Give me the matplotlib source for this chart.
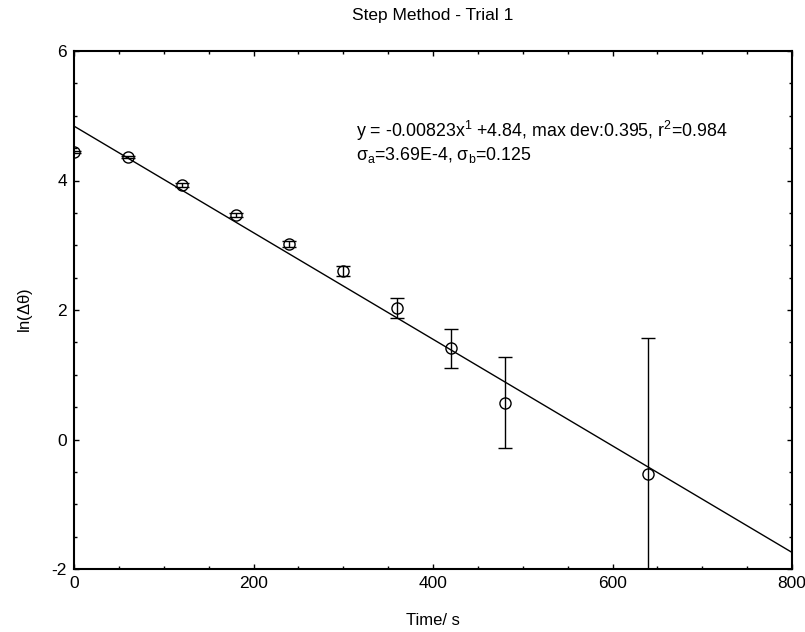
import matplotlib
matplotlib.use("Agg")
import matplotlib.pyplot as plt
import numpy as np
from matplotlib.ticker import MultipleLocator

plt.rcParams['font.family'] = ['Liberation Sans', 'DejaVu Sans']
plt.rcParams['mathtext.fontset'] = 'custom'
plt.rcParams['mathtext.rm'] = 'Liberation Sans'
plt.rcParams['mathtext.it'] = 'Liberation Sans'
plt.rcParams['mathtext.default'] = 'regular'
plt.rcParams['axes.unicode_minus'] = False

# measured points
time_s = [0, 60, 120, 180, 240, 300, 360, 420, 480, 640]
ln_dtheta = [4.44, 4.36, 3.93, 3.47, 3.02, 2.60, 2.03, 1.41, 0.57, -0.53]
err = [0.02, 0.02, 0.03, 0.035, 0.05, 0.075, 0.16, 0.30, 0.70, 2.09]

# linear fit
slope = -0.00823
intercept = 4.84
fit_x = [0, 800]

fig = plt.figure(figsize=(8.05, 6.32), dpi=100)
ax = fig.add_axes([74/805, 1 - 569/632, (792-74)/805, (569-51)/632])

fx = np.array(fit_x)
ax.plot(fx, slope * fx + intercept, color='black', lw=1.0)
ax.errorbar(time_s, ln_dtheta, yerr=err, fmt='o', mfc='none', mec='black',
            ms=8, mew=1.0, ecolor='black', elinewidth=1.0, capsize=5, capthick=1.0)

ax.set_xlim(0, 800)
ax.set_ylim(-2, 6)
ax.xaxis.set_major_locator(MultipleLocator(200))
ax.xaxis.set_minor_locator(MultipleLocator(50))
ax.yaxis.set_major_locator(MultipleLocator(2))
ax.yaxis.set_minor_locator(MultipleLocator(0.5))
ax.tick_params(which='both', direction='in', top=True, right=True, labelsize=12.5)
ax.tick_params(which='major', length=3.5, width=1.0, pad=5)
ax.tick_params(which='minor', length=2, width=1.0)
for s in ax.spines.values():
    s.set_linewidth(1.5)

ax.set_title('Step Method - Trial 1', fontsize=12.5, pad=22.5)
ax.set_xlabel('Time/ s', fontsize=12, labelpad=16)
ax.set_ylabel(r'ln($\Delta\theta$)', fontsize=12, labelpad=12)

ax.text(314, 4.67, r'y = -0.00823x$^1$ +4.84, max dev:0.395, r$^2$=0.984',
        fontsize=12.8, ha='left', va='baseline')
ax.text(314, 4.31, r'$\sigma_a$=3.69E-4, $\sigma_b$=0.125',
        fontsize=12.8, ha='left', va='baseline')

fig.savefig('out.png', dpi=100)
